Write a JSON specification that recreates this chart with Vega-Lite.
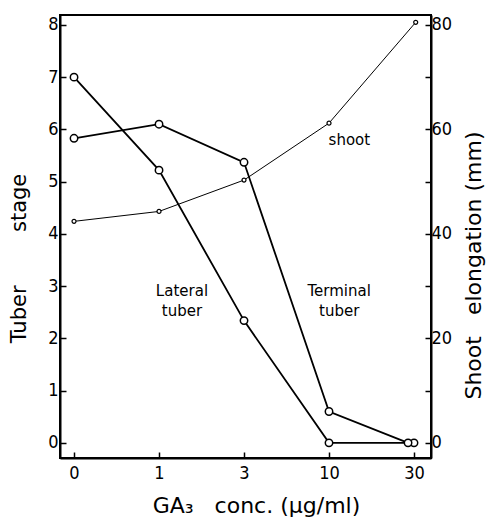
{
  "$schema": "https://vega.github.io/schema/vega-lite/v6.json",
  "width": 371,
  "height": 443,
  "autosize": "none",
  "padding": {"left": 60, "top": 15, "right": 57, "bottom": 61},
  "background": "white",
  "config": {
    "font": "Liberation Sans Narrow, DejaVu Sans Condensed, Liberation Sans",
    "view": {"stroke": "black", "strokeWidth": 2},
    "axis": {"domainColor": "black", "domainWidth": 2, "tickColor": "black", "tickWidth": 1.5, "labelColor": "black", "titleColor": "black", "grid": false, "labelFontSize": 18, "titleFontWeight": "normal", "titleFontSize": 21, "titleFont": "DejaVu Sans", "titleAlign": "center", "titleBaseline": "middle"}
  },
  "datasets": {
    "tuber": [
      {"series": "Lateral tuber", "conc": 0, "pos": 0, "stage": 7.0},
      {"series": "Lateral tuber", "conc": 1, "pos": 1, "stage": 5.22},
      {"series": "Lateral tuber", "conc": 3, "pos": 2, "stage": 2.34},
      {"series": "Lateral tuber", "conc": 10, "pos": 3, "stage": 0.0},
      {"series": "Lateral tuber", "conc": 30, "pos": 4.0, "stage": 0.0},
      {"series": "Terminal tuber", "conc": 0, "pos": 0, "stage": 5.83},
      {"series": "Terminal tuber", "conc": 1, "pos": 1, "stage": 6.1},
      {"series": "Terminal tuber", "conc": 3, "pos": 2, "stage": 5.37},
      {"series": "Terminal tuber", "conc": 10, "pos": 3, "stage": 0.6},
      {"series": "Terminal tuber", "conc": 30, "pos": 3.93, "stage": 0.0}
    ],
    "shoot": [
      {"conc": 0, "pos": 0, "elong": 42.4},
      {"conc": 1, "pos": 1, "elong": 44.3},
      {"conc": 3, "pos": 2, "elong": 50.3},
      {"conc": 10, "pos": 3, "elong": 61.2},
      {"conc": 30, "pos": 4.02, "elong": 80.5}
    ],
    "notes": [
      {"label": ["Lateral", "tuber"], "pos": 1.27, "stage": 2.9},
      {"label": ["Terminal", "tuber"], "pos": 3.12, "stage": 2.9},
      {"label": ["shoot"], "pos": 3.24, "stage": 5.8}
    ]
  },
  "layer": [
    {
      "data": {"name": "tuber"},
      "mark": {"type": "line", "color": "black", "strokeWidth": 1.8, "point": {"filled": false, "fill": "white", "stroke": "black", "size": 55, "strokeWidth": 1.5, "opacity": 1}},
      "encoding": {
        "x": {"field": "pos", "type": "quantitative", "scale": {"domain": [-0.165, 4.2], "nice": false, "zero": false},
          "axis": {"values": [0, 1, 2, 3, 4], "labelExpr": "datum.value == 0 ? '0' : datum.value == 1 ? '1' : datum.value == 2 ? '3' : datum.value == 3 ? '10' : '30'", "tickSize": -6, "labelPadding": 12, "title": "GA₃\u00a0\u00a0\u00a0conc.\u00a0(μg/ml)", "titleFontSize": 22, "titleX": 196, "titleY": 47}},
        "y": {"field": "stage", "type": "quantitative", "scale": {"domain": [-0.29, 8.19], "nice": false, "zero": false},
          "axis": {"values": [0, 1, 2, 3, 4, 5, 6, 7, 8], "tickSize": -6, "labelPadding": 8, "title": "Tuber\u00a0\u00a0\u00a0\u00a0\u00a0\u00a0\u00a0\u00a0stage", "titleX": -41, "titleY": 243}},
        "detail": {"field": "series"}
      }
    },
    {
      "data": {"name": "shoot"},
      "mark": {"type": "line", "color": "black", "strokeWidth": 1, "point": {"filled": false, "fill": "white", "stroke": "black", "size": 16, "strokeWidth": 1.2, "opacity": 1}},
      "encoding": {
        "x": {"field": "pos", "type": "quantitative"},
        "y": {"field": "elong", "type": "quantitative", "scale": {"domain": [-2.9, 81.9], "nice": false, "zero": false},
          "axis": {"orient": "right", "values": [0, 10, 20, 30, 40, 50, 60, 70, 80], "labelExpr": "datum.value % 20 == 0 ? datum.label : ''", "tickSize": -6, "labelPadding": 6, "title": "Shoot\u00a0\u00a0\u00a0elongation\u00a0(mm)", "titleAngle": -90, "titleFontSize": 22, "titleX": 42, "titleY": 250}}
      }
    },
    {
      "data": {"name": "notes"},
      "mark": {"type": "text", "color": "black", "font": "DejaVu Sans", "fontSize": 15, "lineHeight": 20, "align": "center", "baseline": "middle"},
      "encoding": {
        "x": {"field": "pos", "type": "quantitative"},
        "y": {"field": "stage", "type": "quantitative", "scale": {"domain": [-0.29, 8.19], "nice": false, "zero": false}, "axis": null},
        "text": {"field": "label"}
      }
    }
  ],
  "resolve": {"scale": {"y": "independent"}}
}
